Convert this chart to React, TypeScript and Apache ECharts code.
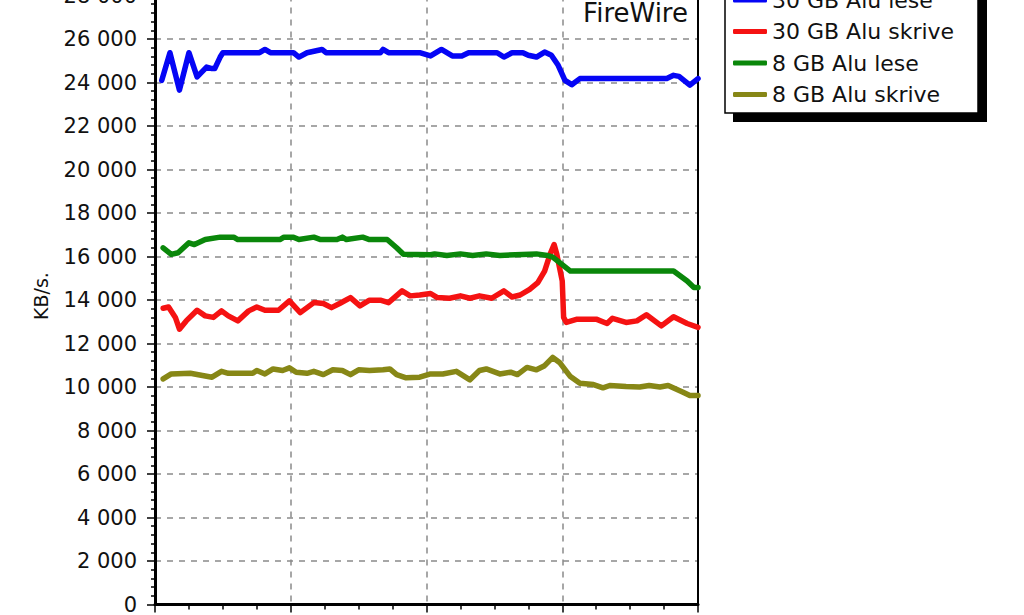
import React, { useEffect, useRef } from "react";
import * as echarts from "echarts";

const seriesNames = ["30 GB Alu lese", "30 GB Alu skrive", "8 GB Alu lese", "8 GB Alu skrive"];
const seriesColors = ["#0505f5", "#f51212", "#0a870a", "#878716"];

const yTicksMax = 28000;
const yTickStep = 2000;
const xMax = 40;
const xStep = 10;

const xBlue = [0.5, 1.1, 1.8, 2.5, 3.1, 3.8, 4.2, 4.4, 4.8, 5.0, 7.7, 8.1, 8.5, 10.2, 10.6, 11.2, 12.3, 12.6, 16.6, 16.8, 17.2, 19.5, 20.3, 21.1, 21.9, 22.6, 23.1, 25.2, 25.7, 26.3, 27.1, 27.5, 28.1, 28.7, 29.2, 29.7, 30.2, 30.7, 31.3, 37.7, 38.2, 38.6, 39.4, 40.0];
const yBlue = [24100, 25370, 23650, 25370, 24260, 24710, 24640, 24640, 25170, 25370, 25370, 25520, 25370, 25370, 25170, 25370, 25520, 25370, 25370, 25520, 25370, 25370, 25220, 25520, 25220, 25220, 25370, 25370, 25170, 25370, 25370, 25250, 25170, 25400, 25250, 24790, 24100, 23900, 24180, 24180, 24330, 24280, 23880, 24180];

const xRed = [0.6, 1.0, 1.5, 1.8, 2.3, 3.1, 3.7, 4.3, 4.9, 5.4, 6.1, 6.9, 7.5, 8.1, 9.1, 9.9, 10.7, 11.7, 12.4, 13.0, 13.6, 14.4, 15.1, 15.8, 16.6, 17.2, 18.2, 18.8, 19.5, 20.3, 20.8, 21.7, 22.5, 23.2, 23.9, 24.8, 25.7, 26.3, 26.9, 27.6, 28.2, 28.7, 29.1, 29.4, 29.6, 30.0, 30.1, 30.3, 31.1, 32.5, 33.3, 33.7, 34.7, 35.5, 36.2, 37.3, 38.2, 39.2, 40.0];
const yRed = [13620, 13680, 13200, 12660, 13040, 13530, 13270, 13200, 13500, 13270, 13040, 13500, 13680, 13530, 13530, 13960, 13420, 13880, 13840, 13650, 13840, 14110, 13730, 13990, 13990, 13880, 14420, 14190, 14230, 14300, 14110, 14080, 14190, 14080, 14190, 14080, 14420, 14140, 14230, 14490, 14800, 15330, 16100, 16550, 16100, 14870, 13200, 12970, 13120, 13120, 12920, 13160, 12970, 13040, 13320, 12810, 13230, 12920, 12740];

const xGreen = [0.6, 1.2, 1.7, 2.5, 2.9, 3.7, 4.8, 5.8, 6.1, 9.2, 9.5, 10.2, 10.6, 11.7, 12.2, 13.4, 13.8, 14.1, 15.3, 15.8, 17.1, 17.8, 18.3, 20.3, 20.6, 21.5, 22.5, 23.4, 24.4, 25.4, 28.1, 28.9, 29.3, 30.6, 38.2, 39.2, 39.7, 40.0];
const yGreen = [16400, 16100, 16170, 16630, 16550, 16780, 16890, 16890, 16780, 16780, 16890, 16890, 16780, 16890, 16780, 16780, 16890, 16780, 16890, 16780, 16780, 16400, 16100, 16080, 16120, 16050, 16120, 16050, 16120, 16050, 16120, 16050, 15970, 15330, 15330, 14870, 14570, 14570];

const xOlive = [0.6, 1.2, 2.6, 4.2, 4.9, 5.4, 7.2, 7.5, 8.1, 8.7, 9.4, 9.9, 10.4, 11.2, 11.7, 12.4, 13.1, 13.8, 14.4, 15.0, 15.8, 16.8, 17.3, 17.8, 18.5, 19.5, 20.3, 21.2, 22.2, 23.2, 23.9, 24.4, 25.4, 26.2, 26.7, 27.4, 28.1, 28.7, 29.3, 29.8, 30.6, 31.3, 32.3, 33.0, 33.5, 34.7, 35.7, 36.4, 37.2, 37.8, 38.9, 39.4, 40.0];
const yOlive = [10370, 10600, 10630, 10450, 10720, 10630, 10630, 10760, 10600, 10830, 10760, 10880, 10680, 10630, 10720, 10570, 10790, 10760, 10570, 10790, 10760, 10790, 10830, 10570, 10420, 10450, 10600, 10600, 10720, 10330, 10760, 10830, 10600, 10680, 10570, 10900, 10790, 10980, 11360, 11130, 10480, 10170, 10110, 9960, 10070, 10020, 10000, 10070, 10000, 10070, 9760, 9610, 9610];

const yAxisTitle = "KB/s.";
const cornerTitle = "FireWire";

const xs = [xBlue, xRed, xGreen, xOlive];
const ys = [yBlue, yRed, yGreen, yOlive];

const fmt = (v: number) => String(v).replace(/\B(?=(\d{3})+(?!\d))/g, " ");

// the canvas is shifted up so that the plot's top (28 000) lies above the visible page
const SHIFT = 15;

export default function App() {
  const ref = useRef<HTMLDivElement>(null);
  useEffect(() => {
    const chart = echarts.init(ref.current as HTMLDivElement, null, { renderer: "svg" });
    const option: any = {
      animation: false,
      backgroundColor: "#ffffff",
      grid: {
        left: 155,
        right: 326,
        top: SHIFT - 7,
        bottom: 10,
        show: false,
        containLabel: false,
      },
      xAxis: {
        type: "value",
        min: 0,
        max: xMax,
        interval: xStep,
        axisLine: { show: true, lineStyle: { color: "#000", width: 3 } },
        axisTick: { show: true, length: 8, lineStyle: { color: "#000", width: 1.5 } },
        minorTick: { show: true, splitNumber: 4, length: 5, lineStyle: { color: "#000", width: 1.5 } },
        axisLabel: { show: false },
        splitLine: { show: true, lineStyle: { color: "#8a8a8a", width: 1.5, type: [6, 6] } },
      },
      yAxis: [
        {
          type: "value",
          min: 0,
          max: yTicksMax,
          interval: yTickStep,
          axisLine: { show: true, lineStyle: { color: "#000", width: 3 } },
          axisTick: { show: true, length: 8, lineStyle: { color: "#000", width: 1.5 } },
          minorTick: { show: true, splitNumber: 5, length: 4, lineStyle: { color: "#000", width: 1.5 } },
          axisLabel: {
            show: true,
            margin: 18,
            color: "#111",
            fontFamily: "DejaVu Sans",
            fontSize: 21,
            formatter: (v: number) => fmt(v),
          },
          splitLine: { show: true, lineStyle: { color: "#8a8a8a", width: 1.5, type: [6, 6] } },
        },
        {
          type: "value",
          position: "right",
          min: 0,
          max: yTicksMax,
          interval: yTickStep,
          z: 4,
          axisLine: { show: true, onZero: false, lineStyle: { color: "#000", width: 2 } },
          axisTick: { show: false },
          axisLabel: { show: false },
          splitLine: { show: false },
        },
      ],
      legend: {
        show: true,
        orient: "vertical",
        left: 733,
        top: SHIFT - 11,
        padding: 0,
        itemGap: 9.5,
        itemWidth: 34,
        itemHeight: 5,
        icon: "roundRect",
        selectedMode: false,
        z: 10,
        data: seriesNames,
        textStyle: {
          color: "#111",
          fontFamily: "DejaVu Sans",
          fontSize: 22,
          lineHeight: 22,
          padding: [0, 0, 0, 0],
        },
      },
      graphic: [
        {
          type: "rect",
          z: 1,
          shape: { x: 733, y: SHIFT - 10, width: 254, height: 132 },
          style: { fill: "#000" },
        },
        {
          type: "rect",
          z: 2,
          shape: { x: 725, y: SHIFT - 10, width: 253, height: 123 },
          style: { fill: "#fff", stroke: "#000", lineWidth: 1.5 },
        },
        {
          type: "text",
          z: 3,
          x: 688,
          y: SHIFT + 13,
          style: {
            text: cornerTitle,
            fill: "#111",
            font: "26px 'DejaVu Sans'",
            textAlign: "right",
            textVerticalAlign: "middle",
          },
        },
        {
          type: "text",
          z: 3,
          x: 41,
          y: SHIFT + 296,
          rotation: Math.PI / 2,
          style: {
            text: yAxisTitle,
            fill: "#111",
            font: "19px 'DejaVu Sans'",
            textAlign: "center",
            textVerticalAlign: "middle",
          },
        },
      ],
      series: seriesNames.map((name, i) => ({
        name,
        type: "line",
        yAxisIndex: 0,
        showSymbol: false,
        symbol: "none",
        color: seriesColors[i],
        lineStyle: { color: seriesColors[i], width: 5.5, join: "round", cap: "round" },
        data: xs[i].map((x, j) => [x, ys[i][j]]),
        z: 5,
      })),
    };
    chart.setOption(option);
    return () => chart.dispose();
  }, []);
  return (
    <div
      ref={ref}
      style={{ position: "fixed", left: 0, top: -SHIFT, width: 1024, height: 615 + SHIFT, background: "#fff" }}
    />
  );
}
